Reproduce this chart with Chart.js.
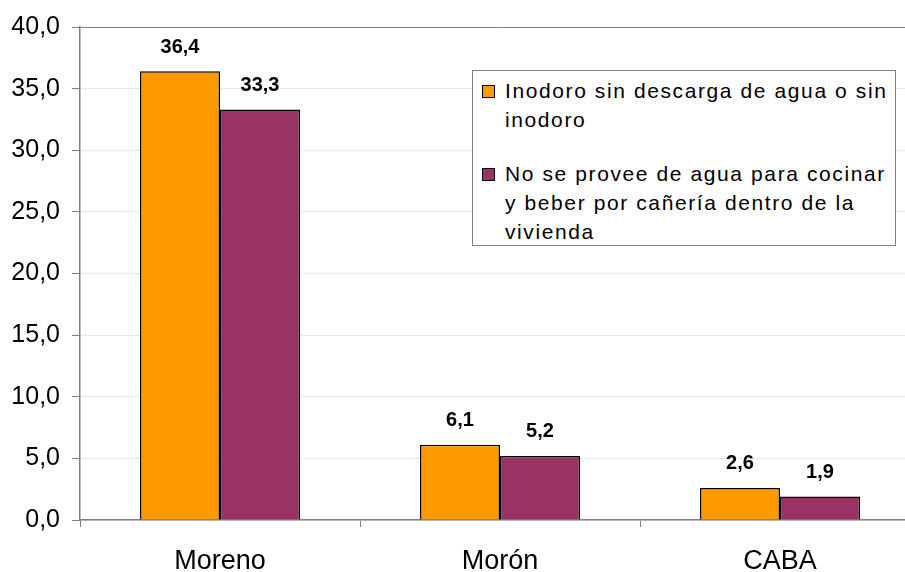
<!DOCTYPE html>
<html>
<head>
<meta charset="utf-8">
<script src="https://cdn.jsdelivr.net/npm/chart.js@4.4.1/dist/chart.umd.min.js"></script>
<style>
  html, body { margin: 0; padding: 0; background: #fff; overflow: hidden; }
  #wrap { position: relative; width: 921px; height: 572px; }
  #legend {
    position: absolute; left: 472px; top: 70px; width: 422px; height: 174px;
    border: 1px solid #808080; background: #fff; box-sizing: content-box;
    font-family: "Liberation Sans", Arial, sans-serif; font-size: 21px; color: #000;
  }
  .item { position: absolute; left: 0; }
  .sw { position: absolute; left: 9px; width: 11px; height: 11px; border: 1.5px solid #000; }
  .txt { position: absolute; left: 32px; line-height: 29px; white-space: nowrap; letter-spacing: 1.6px; }
</style>
</head>
<body>
<div id="wrap">
  <canvas id="graph" width="921" height="572"></canvas>
  <div id="legend"></div>
</div>
<script>
//------------ Data ----------//
var categories = ["Moreno", "Morón", "CABA"];
var inodoro = [36.4, 6.1, 2.6];
var agua = [33.3, 5.2, 1.9];
var seriesLabels = [
  ["Inodoro sin descarga de agua o sin", "inodoro"],
  ["No se provee de agua para cocinar", "y beber por cañería dentro de la", "vivienda"]
];
var seriesColors = ["#FF9900", "#993366"];

function comma(v) { return v.toFixed(1).replace(".", ","); }

// value labels above bars //
var barLabels = {
  id: "barLabels",
  afterDatasetsDraw: function (chart) {
    var ctx = chart.ctx;
    ctx.save();
    ctx.font = "bold 20px 'Liberation Sans', Arial, sans-serif";
    ctx.fillStyle = "#000";
    ctx.textAlign = "center";
    ctx.textBaseline = "middle";
    chart.data.datasets.forEach(function (ds, i) {
      chart.getDatasetMeta(i).data.forEach(function (bar, j) {
        ctx.fillText(comma(ds.data[j]), bar.x, bar.y - 24);
      });
    });
    ctx.restore();
  }
};

const ctx = document.getElementById("graph");
const myChart = new Chart(ctx, {
  type: "bar",
  data: {
    labels: categories,
    datasets: [
      { label: seriesLabels[0].join(" "), data: inodoro, backgroundColor: seriesColors[0], borderColor: "#000", borderWidth: 1.5 },
      { label: seriesLabels[1].join(" "), data: agua, backgroundColor: seriesColors[1], borderColor: "#000", borderWidth: 1.5 }
    ]
  },
  options: {
    responsive: false,
    animation: false,
    devicePixelRatio: 1,
    layout: { padding: { top: 27, right: 1, left: 0, bottom: 0 } },
    datasets: { bar: { categoryPercentage: 0.5714, barPercentage: 1 } },
    plugins: { legend: { display: false }, tooltip: { enabled: false } },
    scales: {
      x: {
        afterFit: function (s) { s.height = 52; },
        grid: { drawOnChartArea: false, tickLength: 7, color: "#808080", lineWidth: 1 },
        border: { color: "#808080", width: 1.5 },
        ticks: { color: "#000", padding: 18, maxRotation: 0, autoSkip: false, font: { family: "'Liberation Sans', Arial, sans-serif", size: 27 } }
      },
      y: {
        min: 0, max: 40,
        afterFit: function (s) { s.width = 80; },
        ticks: {
          stepSize: 5, color: "#000", padding: 12,
          font: { family: "'Liberation Sans', Arial, sans-serif", size: 25 },
          callback: function (v) { return comma(v); }
        },
        grid: {
          tickLength: 8,
          lineWidth: 1,
          color: function (c) { return c.tick && c.tick.value === 40 ? "#808080" : "#d4d4d4"; },
          tickColor: "#808080"
        },
        border: {
          color: "#808080", width: 1.5,
          dash: function (c) { return c.tick && c.tick.value === 40 ? [] : [2, 2]; }
        }
      }
    }
  },
  plugins: [barLabels]
});

// legend from the datasets //
var legend = document.getElementById("legend");
var tops = [5, 88];
seriesLabels.forEach(function (lines, i) {
  var item = document.createElement("div");
  item.className = "item";
  item.style.top = tops[i] + "px";
  var sw = document.createElement("div");
  sw.className = "sw";
  sw.style.top = "9px";
  sw.style.background = seriesColors[i];
  var txt = document.createElement("div");
  txt.className = "txt";
  txt.innerHTML = lines.join("<br>");
  item.appendChild(sw);
  item.appendChild(txt);
  legend.appendChild(item);
});
</script>
</body>
</html>
